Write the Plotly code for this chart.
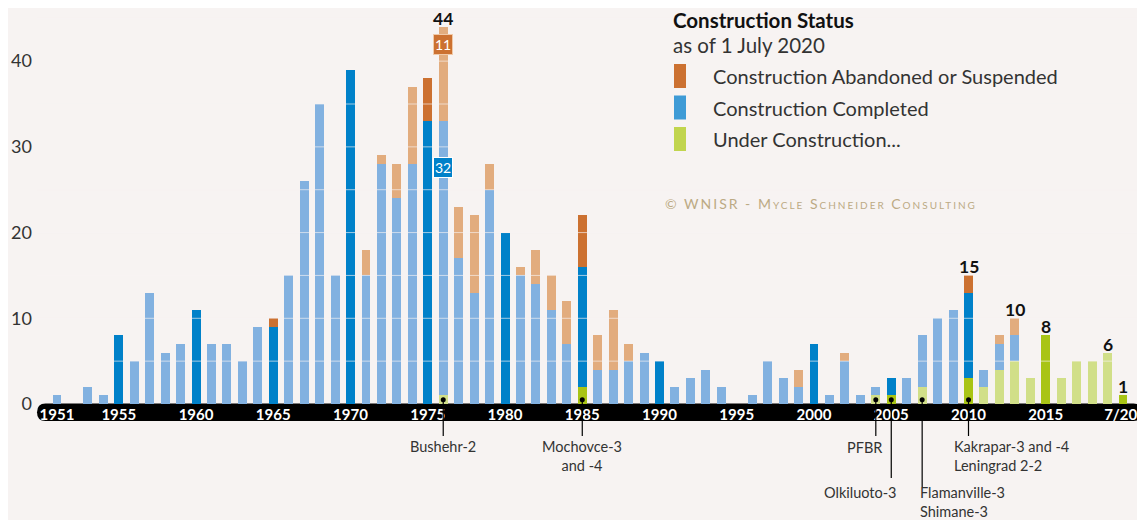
import plotly.graph_objects as go

# -----------------------------
# Data: construction starts per year, by current status
# -----------------------------
years = list(range(1951, 2021))
completed = [1, 0, 2, 1, 8, 5, 13, 6, 7, 11,
             7, 7, 5, 9, 9, 15, 26, 35, 15, 39,
             15, 28, 24, 28, 33, 32, 17, 13, 25, 20,
             15, 14, 11, 7, 14, 4, 4, 5, 6, 5,
             2, 3, 4, 2, 0, 1, 5, 3, 2, 7,
             1, 5, 1, 1, 2, 3, 6, 10, 11, 10,
             2, 3, 3, 0, 0, 0, 0, 0, 0, 0]
abandoned = [0, 0, 0, 0, 0, 0, 0, 0, 0, 0,
             0, 0, 0, 0, 1, 0, 0, 0, 0, 0,
             3, 1, 4, 9, 5, 11, 6, 9, 3, 0,
             1, 4, 4, 5, 6, 4, 7, 2, 0, 0,
             0, 0, 0, 0, 0, 0, 0, 0, 2, 0,
             0, 1, 0, 0, 0, 0, 0, 0, 0, 2,
             0, 1, 2, 0, 0, 0, 0, 0, 0, 0]
under_construction = [0, 0, 0, 0, 0, 0, 0, 0, 0, 0,
                      0, 0, 0, 0, 0, 0, 0, 0, 0, 0,
                      0, 0, 0, 0, 0, 1, 0, 0, 0, 0,
                      0, 0, 0, 0, 2, 0, 0, 0, 0, 0,
                      0, 0, 0, 0, 0, 0, 0, 0, 0, 0,
                      0, 0, 0, 1, 1, 0, 2, 0, 0, 3,
                      2, 4, 5, 3, 8, 3, 5, 5, 6, 1]

tick_years = [1951, 1955, 1960, 1965, 1970, 1975, 1980, 1985, 1990,
              1995, 2000, 2005, 2010, 2015, 2020]
tick_text = ["1951", "1955", "1960", "1965", "1970", "1975", "1980", "1985",
             "1990", "1995", "2000", "2005", "2010", "2015", "7/20"]

total_label_years = [1976, 2010, 2013, 2015, 2019, 2020]

project_years = [1976, 1985, 2004, 2005, 2007, 2010]
project_names = ["Bushehr-2", "Mochovce-3<br>and -4", "PFBR", "Olkiluoto-3",
                 "Flamanville-3<br>Shimane-3", "Kakrapar-3 and -4<br>Leningrad 2-2"]

# -----------------------------
# Styling
# -----------------------------
FONT = "Lato"
BG = "#f7f3f2"
TXT = "#333333"
DARK = {"comp": "#0081c9", "aband": "#cc7131", "under": "#a9c415"}
LIGHT = {"comp": "#82b1e0", "aband": "#e2ac7e", "under": "#d1df88"}
LEGEND_COL = ["#cc7131", "#3f9bd6", "#c1d54e"]

# page has an 8px body margin: size the figure so it fills the 1145x520 window
OFF = 8
W, H = 1145 - OFF, 520 - OFF
L, R, T, B = 37 - OFF, 3, 8 - OFF, 116
PW, PH = W - L - R, H - T - B
YMAX = 46.2
XR = [1949.706, 2021.23]


def px(x):  # window pixel -> paper x
    return (x - OFF - L) / PW


def py(y):  # window pixel -> paper y
    return (H - B - (y - OFF)) / PH


def shade(key):
    return [DARK[key] if (y % 5 == 0 or y == 2020) else LIGHT[key] for y in years]


fig = go.Figure()
fig.add_trace(go.Bar(x=years, y=under_construction, name="Under Construction",
                     marker=dict(color=shade("under"), line_width=0), width=0.58))
fig.add_trace(go.Bar(x=years, y=completed, name="Construction Completed",
                     marker=dict(color=shade("comp"), line_width=0), width=0.58))
fig.add_trace(go.Bar(x=years, y=abandoned, name="Construction Abandoned or Suspended",
                     marker=dict(color=shade("aband"), line_width=0), width=0.58))

totals = [c + a + u for c, a, u in zip(completed, abandoned, under_construction)]

shapes = []
# light grid lines drawn over the bars
for v in range(5, 50, 5):
    shapes.append(dict(type="line", xref="paper", yref="y", x0=0, x1=1, y0=v, y1=v,
                       line=dict(color="rgba(247,243,242,0.65)", width=1), layer="above"))

# black rounded axis band (below, so the white tick labels show on top)
rx = 8.5 / PW
x0, x1, yt, yb = 0, 1, py(403.5), py(421)
ym = (yt + yb) / 2
path = (f"M {x0+rx},{yt} L {x1-rx},{yt} Q {x1},{yt} {x1},{ym} Q {x1},{yb} {x1-rx},{yb} "
        f"L {x0+rx},{yb} Q {x0},{yb} {x0},{ym} Q {x0},{yt} {x0+rx},{yt} Z")
shapes.append(dict(type="path", xref="paper", yref="paper", path=path,
                   fillcolor="#000000", line=dict(width=0), layer="below"))

# leader lines for named projects
leader_end = [436, 436, 436, 478, 487, 436]
for yr, end in zip(project_years, leader_end):
    shapes.append(dict(type="line", xref="x", yref="paper", x0=yr, x1=yr,
                       y0=0.5 / YMAX, y1=py(end), line=dict(color="#000000", width=1.2),
                       layer="above"))

fig.add_trace(go.Scatter(x=project_years, y=[0.5] * len(project_years), mode="markers",
                         marker=dict(color="#000000", size=5), hoverinfo="skip",
                         showlegend=False, cliponaxis=False))

annotations = []
# totals above selected bars
for yr in total_label_years:
    i = years.index(yr)
    annotations.append(dict(x=yr, y=totals[i], xref="x", yref="y", text=str(totals[i]),
                            showarrow=False, yanchor="bottom", yshift=-4,
                            font=dict(family=FONT, size=17.5, color="#111111", weight="bold")))

# bubble labels on 1976 bar
i76 = years.index(1976)
annotations.append(dict(x=1976, y=totals[i76] - 2, xref="x", yref="y",
                        text=str(abandoned[i76]), showarrow=False,
                        bgcolor=DARK["aband"], bordercolor="#f0c9a8", borderwidth=1,
                        borderpad=1, font=dict(family=FONT, size=14, color="white")))
annotations.append(dict(x=1976, y=under_construction[i76] + completed[i76] - 5.4,
                        xref="x", yref="y", text=str(completed[i76]), showarrow=False,
                        bgcolor=DARK["comp"], bordercolor="white", borderwidth=1,
                        borderpad=1, font=dict(family=FONT, size=14, color="white")))

# project names below the axis band
name_style = [  # (xanchor, xshift, top pixel)
    ("center", 0, 436), ("center", 0, 436), ("center", -11, 437),
    ("right", 8, 482), ("left", -4, 482), ("left", -17, 436),
]
for yr, name, (xa, xs, top) in zip(project_years, project_names, name_style):
    annotations.append(dict(x=yr, y=py(top), xref="x", yref="paper", text=name,
                            showarrow=False, xanchor=xa, yanchor="top", xshift=xs,
                            align="left" if xa == "left" else "center",
                            font=dict(family=FONT, size=14.5, color=TXT)))

# legend block
annotations.append(dict(x=px(671), y=py(20), xref="paper", yref="paper",
                        text="<b>Construction Status</b>", showarrow=False,
                        xanchor="left", yanchor="middle",
                        font=dict(family=FONT, size=20.5, color="#111111")))
annotations.append(dict(x=px(671), y=py(45), xref="paper", yref="paper",
                        text="as of 1 July 2020", showarrow=False,
                        xanchor="left", yanchor="middle",
                        font=dict(family=FONT, size=20.5, color=TXT)))
legend_names = ["Construction Abandoned or Suspended", "Construction Completed",
                "Under Construction..."]
for k, (nm, col) in enumerate(zip(legend_names, LEGEND_COL)):
    cy = 76 + k * 31.5
    shapes.append(dict(type="rect", xref="paper", yref="paper",
                       x0=px(674), x1=px(686), y0=py(cy - 12), y1=py(cy + 12),
                       fillcolor=col, line=dict(width=0)))
    annotations.append(dict(x=px(711), y=py(cy), xref="paper", yref="paper", text=nm,
                            showarrow=False, xanchor="left", yanchor="middle",
                            font=dict(family=FONT, size=20, color=TXT)))

annotations.append(dict(x=px(663), y=py(203), xref="paper", yref="paper",
                        text="<span style='letter-spacing:2px'>"
                             "© WNISR - Mycle Schneider Consulting</span>",
                        showarrow=False, xanchor="left", yanchor="middle",
                        font=dict(family=FONT, size=14, color="#bcaa84",
                                  variant="small-caps")))

fig.update_layout(
    width=W, height=H,
    margin=dict(l=L, r=R, t=T, b=B, autoexpand=False),
    paper_bgcolor=BG, plot_bgcolor=BG,
    barmode="stack",
    showlegend=False,
    shapes=shapes,
    annotations=annotations,
)
# last label sits a touch left so it stays inside the rounded band end
tick_pos = tick_years[:-1] + [tick_years[-1] - 0.15]
fig.update_xaxes(range=XR, tickvals=tick_pos, ticktext=tick_text, showgrid=False,
                 zeroline=False, showline=False, ticks="", automargin=False,
                 ticklabeloverflow="allow",
                 tickfont=dict(family=FONT, size=15, color="white", weight="bold"))
fig.update_yaxes(range=[0, YMAX], tickvals=[0, 10, 20, 30, 40], showgrid=False,
                 zeroline=False, showline=False, ticks="", ticklabelstandoff=4,
                 automargin=False,
                 tickfont=dict(family=FONT, size=18, color=TXT))

fig.write_html("out.html")
